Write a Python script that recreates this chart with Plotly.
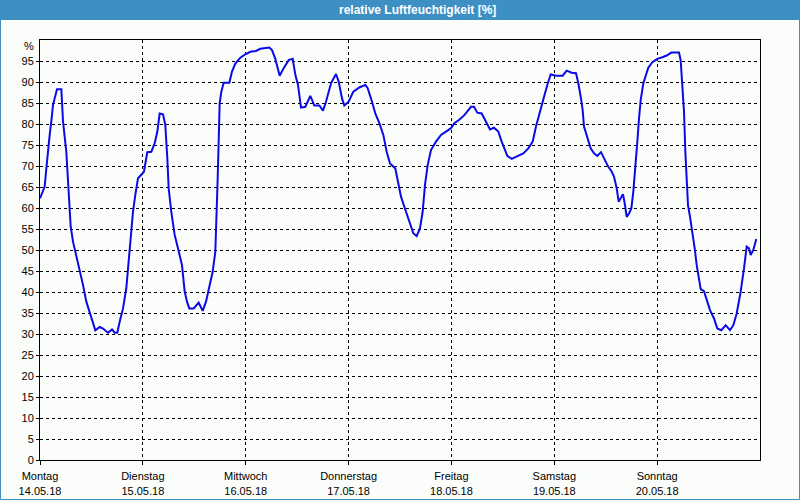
import plotly.graph_objects as go

# hours since Monday 14.05.18 00:00
hours = [
    0, 0.7, 1.09, 1.48, 1.87, 2.26, 2.64, 3.03, 3.42, 3.97, 4.98, 5.37, 6.14, 6.53, 6.92, 7.16, 7.7,
    8.48, 9.26, 10.03, 10.81, 11.59, 12.37, 12.91, 13.92, 14.7, 15.87, 16.8, 17.42, 18.04, 18.59,
    19.37, 20.14, 20.53, 21.16, 21.7, 22.24, 22.87, 23.64, 24.27, 24.58, 25.04, 25.98, 26.76, 27.38,
    27.92, 28.7, 29.24, 29.71, 30.02, 30.64, 31.42, 32.2, 33.13,
    33.76, 34.3, 34.84, 35.86, 37.02, 37.96, 38.73, 39.51, 40.29, 40.91, 41.22, 41.46, 41.69, 41.92,
    42.31, 42.86, 44.18, 44.8, 45.58, 46.74, 47.91, 49.08, 50.4, 51.41, 53.51, 54.13, 54.91, 55.92,
    56.86, 58.02, 58.96, 59.58, 60.2, 60.9, 61.91, 63.08, 64.01, 65.18, 66.03,
    66.73, 67.9, 69.07, 69.69, 70.47, 71.01, 72.02, 73.11, 74.51, 75.91, 76.46, 77.47, 78.24, 79.18,
    80.11, 80.89, 81.67, 82.91, 83.46, 84.23, 85.01, 85.79, 86.57, 87.11, 87.89, 88.67, 89.29, 89.83,
    90.46, 91.23, 92.4, 93.57, 94.73, 95.9, 96.68, 97.84, 99.01, 100.02, 100.57,
    101.27, 102.04, 103.06, 104.07, 105.0, 105.93, 106.94, 107.72, 108.27, 109.04, 110.06, 111.22,
    112.78, 113.94, 114.96, 115.73, 116.43, 117.06, 117.83, 118.46, 119.16, 120.4, 121.96, 122.89,
    124.06, 125.07, 125.61, 126.23, 126.62, 126.93, 127.71, 128.49, 129.27, 130.04, 130.9, 131.68,
    132.61, 133.39,
    133.93, 134.56, 135.02, 135.49, 136.03, 136.5, 136.89, 137.43, 137.98, 138.44, 138.99, 139.38,
    139.77, 140.16, 140.78, 141.32, 141.94, 142.88, 144.04, 145.21, 146.22, 147.31, 149.1, 149.49,
    149.88, 150.27, 150.58, 150.89, 151.2, 151.67, 152.21, 152.76, 153.23, 153.77, 154.16, 154.93,
    155.56, 156.33, 157.27, 158.04, 158.98, 159.99, 161.0, 161.78, 162.56, 163.49, 164.27, 164.89,
    165.43, 165.82, 166.44, 167.14,
]

humidity = [
    62.3, 64.3, 65.1, 69.4, 74.2, 77.4, 80.6, 84.5, 86.1, 88.3, 88.3, 80.6, 73.4, 66.3, 59.9, 55.6, 52.0,
    48.8, 45.6, 41.7, 37.7, 35.3, 32.9, 30.9, 31.7, 31.3, 30.3, 31.1, 30.3, 30.3, 32.9,
    36.1, 40.9, 45.6, 52.8, 59.1, 63.1, 67.1, 67.9, 68.7, 70.6, 73.3, 73.4, 75.4, 78.2,
    82.5, 82.3, 79.8, 71.8, 64.7, 59.1, 53.6, 50.4, 46.4,
    40.1, 37.7, 36.1, 36.1, 37.5, 35.5, 37.7, 40.9, 44.8, 49.6, 57.5, 67.1, 75.8, 84.9,
    87.7, 89.8, 89.8, 92.5, 94.4, 95.8, 96.6, 97.2, 97.4, 97.9, 98.2, 97.6, 95.5, 91.5,
    93.3, 95.2, 95.5, 91.7, 89.3, 83.9, 84.1, 86.7, 84.4, 84.4, 83.2,
    85.3, 89.7, 91.9, 90.1, 86.1, 84.4, 85.3, 87.7, 88.7, 89.3, 88.5, 85.3, 82.5, 80.2,
    77.4, 73.4, 70.6, 69.4, 66.3, 62.7, 60.3, 57.9, 56.0, 54.0, 53.3, 55.2, 59.1, 65.5,
    70.2, 73.8, 75.8, 77.4, 78.2, 79.0, 80.2, 81.0, 82.1, 83.6, 84.1,
    84.1, 82.7, 82.5, 80.4, 78.7, 79.1, 78.2, 75.8, 74.2, 72.4, 71.7, 72.2,
    73.0, 74.2, 75.8, 79.4, 82.1, 84.9, 87.3, 89.6, 91.8, 91.5, 91.5, 92.7,
    92.2, 92.1, 89.7, 86.1, 83.3, 79.4, 76.6, 74.2, 73.0, 72.4, 73.3, 71.8,
    69.8, 68.7,
    67.5, 64.7, 61.5, 62.3, 63.3, 60.7, 57.9, 58.7, 59.9, 63.9, 70.2, 75.8,
    81.3, 85.7, 89.7, 91.7, 93.4, 94.7, 95.5, 95.9, 96.3, 97.0, 97.0, 95.2,
    90.1, 82.9, 73.4, 67.1, 60.7, 57.9, 54.4, 50.4, 46.4, 43.3, 40.7, 40.2,
    38.1, 35.7, 33.7, 31.3, 30.9, 32.1, 30.9, 32.1, 34.9, 40.1, 45.6, 50.8,
    50.4, 48.8, 50.0, 52.6,
]

day_names = ["Montag", "Dienstag", "Mittwoch", "Donnerstag", "Freitag", "Samstag", "Sonntag"]
day_dates = ["14.05.18", "15.05.18", "16.05.18", "17.05.18", "18.05.18", "19.05.18", "20.05.18"]
day_hours = [0, 24, 48, 72, 96, 120, 144]
y_ticks = list(range(0, 100, 5))

title_text = "relative Luftfeuchtigkeit [%]"
unit_label = "%"

W, H = 800, 500
ML, MR, MT, MB = 40, 40, 40, 40
PW, PH = W - ML - MR, H - MT - MB
BAR = "#3d8fc4"
FONT = "Liberation Sans, Arial, sans-serif"


def px_x(p):
    return (p - ML) / PW


def px_y(p):
    return (H - MB - p) / PH


fig = go.Figure()
fig.add_trace(go.Scatter(
    x=hours, y=humidity, mode="lines",
    line=dict(color="#0a0ae8", width=2),
    hoverinfo="skip", showlegend=False,
))

fig.update_layout(
    width=W, height=H,
    margin=dict(l=ML, r=MR, t=MT, b=MB, pad=0, autoexpand=False),
    paper_bgcolor="#fbfdfb",
    plot_bgcolor="#fbfdfb",
    font=dict(family=FONT, size=11, color="#000000"),
    showlegend=False,
    xaxis=dict(
        range=[0, 168], tickmode="array", tickvals=day_hours,
        ticktext=[f"{n}<br>{d}" for n, d in zip(day_names, day_dates)],
        showgrid=True, gridcolor="#000000", gridwidth=1, griddash="3px,3px",
        showline=True, linecolor="#000000", linewidth=1, mirror=True,
        ticks="outside", ticklen=4, tickcolor="#000000", zeroline=False,
        ticklabelstandoff=2, automargin=False,
        fixedrange=True,
    ),
    yaxis=dict(
        range=[0, 100], tickmode="array", tickvals=y_ticks,
        ticktext=[str(v) for v in y_ticks],
        showgrid=True, gridcolor="#000000", gridwidth=1, griddash="3px,3px",
        showline=True, linecolor="#000000", linewidth=1, mirror=True,
        ticks="outside", ticklen=3, tickcolor="#000000", zeroline=False,
        automargin=False,
        fixedrange=True,
    ),
    shapes=[
        dict(type="rect", xref="paper", yref="paper",
             x0=px_x(0), x1=px_x(W), y0=px_y(20), y1=px_y(0),
             fillcolor=BAR, line=dict(width=0), layer="below"),
        dict(type="rect", xref="paper", yref="paper",
             x0=px_x(0.5), x1=px_x(W - 0.5), y0=px_y(H - 0.5), y1=px_y(0.5),
             line=dict(color=BAR, width=1), fillcolor="rgba(0,0,0,0)", layer="above"),
    ],
    annotations=[
        dict(text=f"<b>{title_text}</b>", xref="paper", yref="paper",
             x=px_x(417), y=px_y(10), xanchor="center", yanchor="middle",
             showarrow=False, font=dict(family=FONT, size=12, color="#ffffff")),
        dict(text=unit_label, xref="paper", yref="paper",
             x=px_x(36), y=px_y(46), xanchor="right", yanchor="middle",
             showarrow=False, font=dict(family=FONT, size=11, color="#000000")),
    ],
)

fig.write_html("out.html", config={"displayModeBar": False})
